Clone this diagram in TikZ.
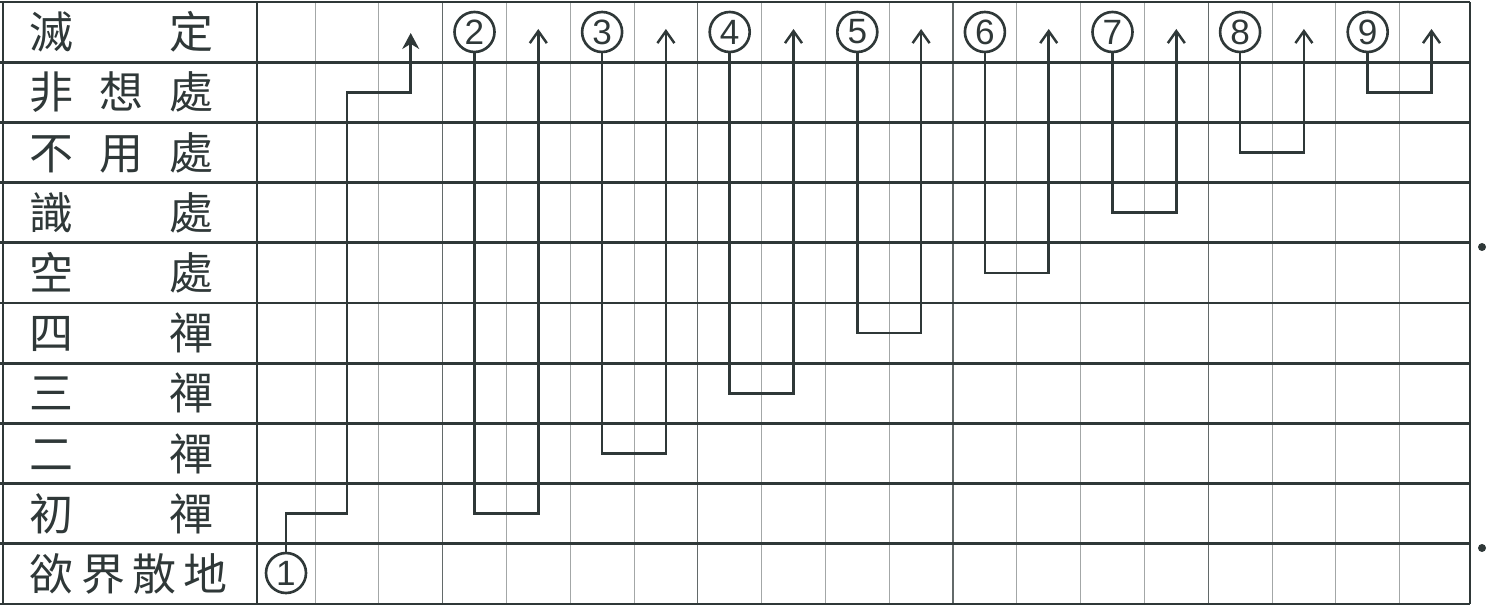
\documentclass[tikz,border=0pt]{standalone}
\usepackage{fontspec}
\setsansfont{Liberation Sans}
\newfontfamily\cjk{Noto Sans CJK TC}
\usetikzlibrary{arrows.meta}
\definecolor{ink}{HTML}{2F3838}
\definecolor{rule}{HTML}{A3A7A7}

\begin{document}
\begin{tikzpicture}[x=0.2mm, y=-0.2mm,
  hline/.style={ink, line width=1.6pt},
  vline/.style={rule, line width=0.5pt},
  vdark/.style={ink!75, line width=0.6pt},
  lab/.style={inner sep=0, text=ink, font=\cjk\fontsize{25}{25}\selectfont},
  num/.style={circle, draw=ink, line width=1.5pt, minimum size=8mm, inner sep=0, text=ink, font=\sffamily\fontsize{20}{20}\selectfont},
  link/.style={ink, line width=1.4pt},
  up/.style={link, -{Straight Barb[length=2.4mm, width=3.4mm]}},
  upfill/.style={link, -{Stealth[length=3.2mm, width=3.4mm]}}]
\useasboundingbox (0,0) rectangle (1489,609);

% ruling of the sheet
\foreach \k in {1,2,4,5,6,8,9,10,12,13,14,16,17,18}
  \draw[vline] ({251.2+63.8*\k},2) -- ({251.2+63.8*\k},604);
\foreach \k in {3,7,11,15}
  \draw[vdark] ({251.2+63.8*\k},2) -- ({251.2+63.8*\k},604);
\foreach \i in {0,...,10}
  \draw[hline] (0,{2+60.2*\i}) -- (1470,{2+60.2*\i});
\draw[hline] (3,2) -- (3,604);
\draw[hline] (257,2) -- (257,604);
\draw[hline] (1470,2) -- (1470,604);
\fill[ink] (1482,247) circle (0.8mm);
\fill[ink] (1482,548) circle (0.8mm);

% stages
\node[lab] (mie) at (121.5,32.1) {\makebox[36.6mm]{滅\hfill 定}};
\node[lab] (feixiang) at (121.5,92.3) {\makebox[36.6mm]{非\hfill 想\hfill 處}};
\node[lab] (buyong) at (121.5,152.5) {\makebox[36.6mm]{不\hfill 用\hfill 處}};
\node[lab] (shi) at (121.5,212.7) {\makebox[36.6mm]{識\hfill 處}};
\node[lab] (kong) at (121.5,272.9) {\makebox[36.6mm]{空\hfill 處}};
\node[lab] (si) at (121.5,333.1) {\makebox[36.6mm]{四\hfill 禪}};
\node[lab] (san) at (121.5,393.3) {\makebox[36.6mm]{三\hfill 禪}};
\node[lab] (er) at (121.5,453.5) {\makebox[36.6mm]{二\hfill 禪}};
\node[lab] (chu) at (121.5,513.7) {\makebox[36.6mm]{初\hfill 禪}};
\node[lab] (yujie) at (128.5,573.9) {\makebox[39.4mm]{欲\hfill 界\hfill 散\hfill 地}};

% numbered steps
\node[num] (n1) at (286,573) {1};
\node[num] (n2) at (474.5,32) {2};
\node[num] (n3) at (602.1,32) {3};
\node[num] (n4) at (729.7,32) {4};
\node[num] (n5) at (857.3,32) {5};
\node[num] (n6) at (984.9,32) {6};
\node[num] (n7) at (1112.5,32) {7};
\node[num] (n8) at (1240.1,32) {8};
\node[num] (n9) at (1367.7,32) {9};

\coordinate (p1) at (347,513.7);
\coordinate (p2) at (410.7,92.3);
\coordinate (t1) at (410.7,33);
\coordinate (b2) at (538.3,513.7);  \coordinate (t2) at (538.3,29);
\coordinate (b3) at (665.9,453.5);  \coordinate (t3) at (665.9,29);
\coordinate (b4) at (793.5,393.3);  \coordinate (t4) at (793.5,29);
\coordinate (b5) at (921.1,333.1);  \coordinate (t5) at (921.1,29);
\coordinate (b6) at (1048.7,272.9); \coordinate (t6) at (1048.7,29);
\coordinate (b7) at (1176.3,212.7); \coordinate (t7) at (1176.3,29);
\coordinate (b8) at (1303.9,152.5); \coordinate (t8) at (1303.9,29);
\coordinate (b9) at (1431.5,92.3);  \coordinate (t9) at (1431.5,29);

\draw[upfill] (n1) |- (p1) |- (p2) -- (t1);
\draw[up] (n2) |- (b2) -- (t2);
\draw[up] (n3) |- (b3) -- (t3);
\draw[up] (n4) |- (b4) -- (t4);
\draw[up] (n5) |- (b5) -- (t5);
\draw[up] (n6) |- (b6) -- (t6);
\draw[up] (n7) |- (b7) -- (t7);
\draw[up] (n8) |- (b8) -- (t8);
\draw[up] (n9) |- (b9) -- (t9);
\end{tikzpicture}
\end{document}
